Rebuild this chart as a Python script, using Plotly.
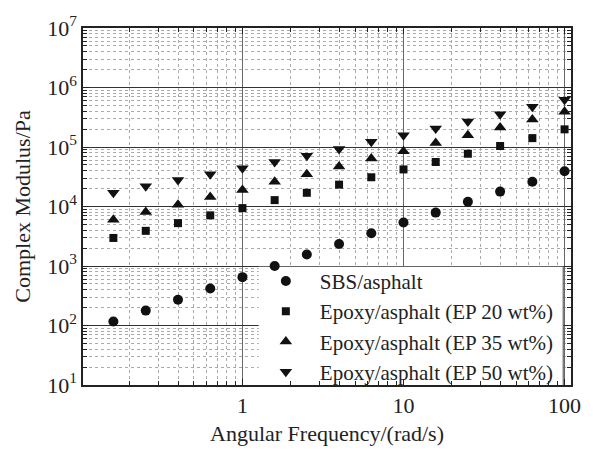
import plotly.graph_objects as go

freq = [0.158, 0.251, 0.398, 0.631, 1.0, 1.585, 2.51, 3.98, 6.31, 10.0, 15.85, 25.1, 39.8, 63.1, 100.0]
sbs = [117, 178, 270, 420, 650, 1000, 1560, 2350, 3550, 5370, 7900, 12000, 17800, 26000, 39000]
ep20 = [2960, 3900, 5250, 7100, 9400, 12800, 17000, 23300, 31000, 42000, 56000, 77000, 104000, 141000, 198000]
ep35 = [6000, 8100, 10700, 14500, 19000, 26000, 35000, 47000, 64000, 85000, 117000, 158000, 212000, 290000, 390000]
ep50 = [17000, 22000, 28000, 35000, 44000, 56000, 71000, 93000, 123000, 158000, 204000, 267000, 355000, 475000, 620000]

names = ["SBS/asphalt", "Epoxy/asphalt (EP 20 wt%)", "Epoxy/asphalt (EP 35 wt%)", "Epoxy/asphalt (EP 50 wt%)"]
series = [sbs, ep20, ep35, ep50]
symbols = ["circle", "square", "triangle-up", "triangle-down"]
sizes = [10, 8, 11, 11]

x_tickvals = [1, 10, 100]
x_ticktext = ["1", "10", "100"]
y_tickvals = [1e1, 1e2, 1e3, 1e4, 1e5, 1e6, 1e7]
y_ticktext = ["10<sup>1</sup>", "10<sup>2</sup>", "10<sup>3</sup>", "10<sup>4</sup>",
              "10<sup>5</sup>", "10<sup>6</sup>", "10<sup>7</sup>"]

FONT = "Liberation Serif"
XR = [-0.99, 2.04]
YR = [1, 7]

fig = go.Figure()

# white legend panel (decoration) derived from the axis ranges, drawn under the markers
lx0, lx1, ly0, ly1 = 0.36, 0.984, 0.0, 0.331
px0 = 10 ** (XR[0] + lx0 * (XR[1] - XR[0]))
px1 = 10 ** (XR[0] + lx1 * (XR[1] - XR[0]))
py0 = 10 ** (YR[0] + ly0 * (YR[1] - YR[0]))
py1 = 10 ** (YR[0] + ly1 * (YR[1] - YR[0]))
fig.add_trace(go.Scatter(
    x=[px0, px1, px1, px0, px0], y=[py0, py0, py1, py1, py0],
    mode="lines", fill="toself", fillcolor="white", line=dict(width=0, color="white"),
    showlegend=False, hoverinfo="skip",
))

for name, ys, sym, sz in zip(names, series, symbols, sizes):
    fig.add_trace(go.Scatter(
        x=freq, y=ys, mode="markers", name=name,
        marker=dict(symbol=sym, size=sz, color="#111111", line=dict(width=0)),
    ))

axis_common = dict(
    type="log", showline=True, linecolor="#222", linewidth=1.5, mirror="ticks",
    ticks="inside", ticklen=6, tickwidth=1, tickcolor="#222",
    tickfont=dict(family=FONT, size=22, color="#222"),
    showgrid=True, gridwidth=1, zeroline=False,
    tickmode="array", layer="above traces",
)

fig.update_xaxes(
    **axis_common,
    range=XR,
    tickvals=x_tickvals, ticktext=x_ticktext,
    gridcolor="#666",
    minor=dict(ticks="inside", ticklen=4, tickcolor="#222", showgrid=True, dtick="D1",
               gridcolor="#aaa", griddash="dot", gridwidth=1),
    title=dict(text="Angular Frequency/(rad/s)", font=dict(family=FONT, size=22, color="#222"), standoff=8),
)
fig.update_yaxes(
    **axis_common,
    range=YR,
    tickvals=y_tickvals, ticktext=y_ticktext,
    gridcolor="#333",
    minor=dict(ticks="inside", ticklen=4, tickcolor="#222", showgrid=True, dtick="D1",
               gridcolor="#aaa", griddash="dot", gridwidth=1),
    title=dict(text="Complex Modulus/Pa", font=dict(family=FONT, size=22, color="#222"), standoff=10),
)

fig.add_shape(type="line", xref="x domain", yref="y domain", x0=lx1, x1=lx1, y0=ly0, y1=ly1,
              layer="above", line=dict(color="#444", width=1))

fig.update_layout(
    width=593, height=454,
    margin=dict(l=83, r=13, t=27, b=61),
    paper_bgcolor="white", plot_bgcolor="white",
    font=dict(family=FONT, size=22, color="#222"),
    showlegend=True,
    legend=dict(
        x=0.346, y=0.163, xanchor="left", yanchor="middle",
        bgcolor="rgba(255,255,255,0)", borderwidth=0,
        font=dict(family=FONT, size=21, color="#222"),
        itemwidth=58, tracegroupgap=0,
    ),
)

fig.write_html("out.html")
